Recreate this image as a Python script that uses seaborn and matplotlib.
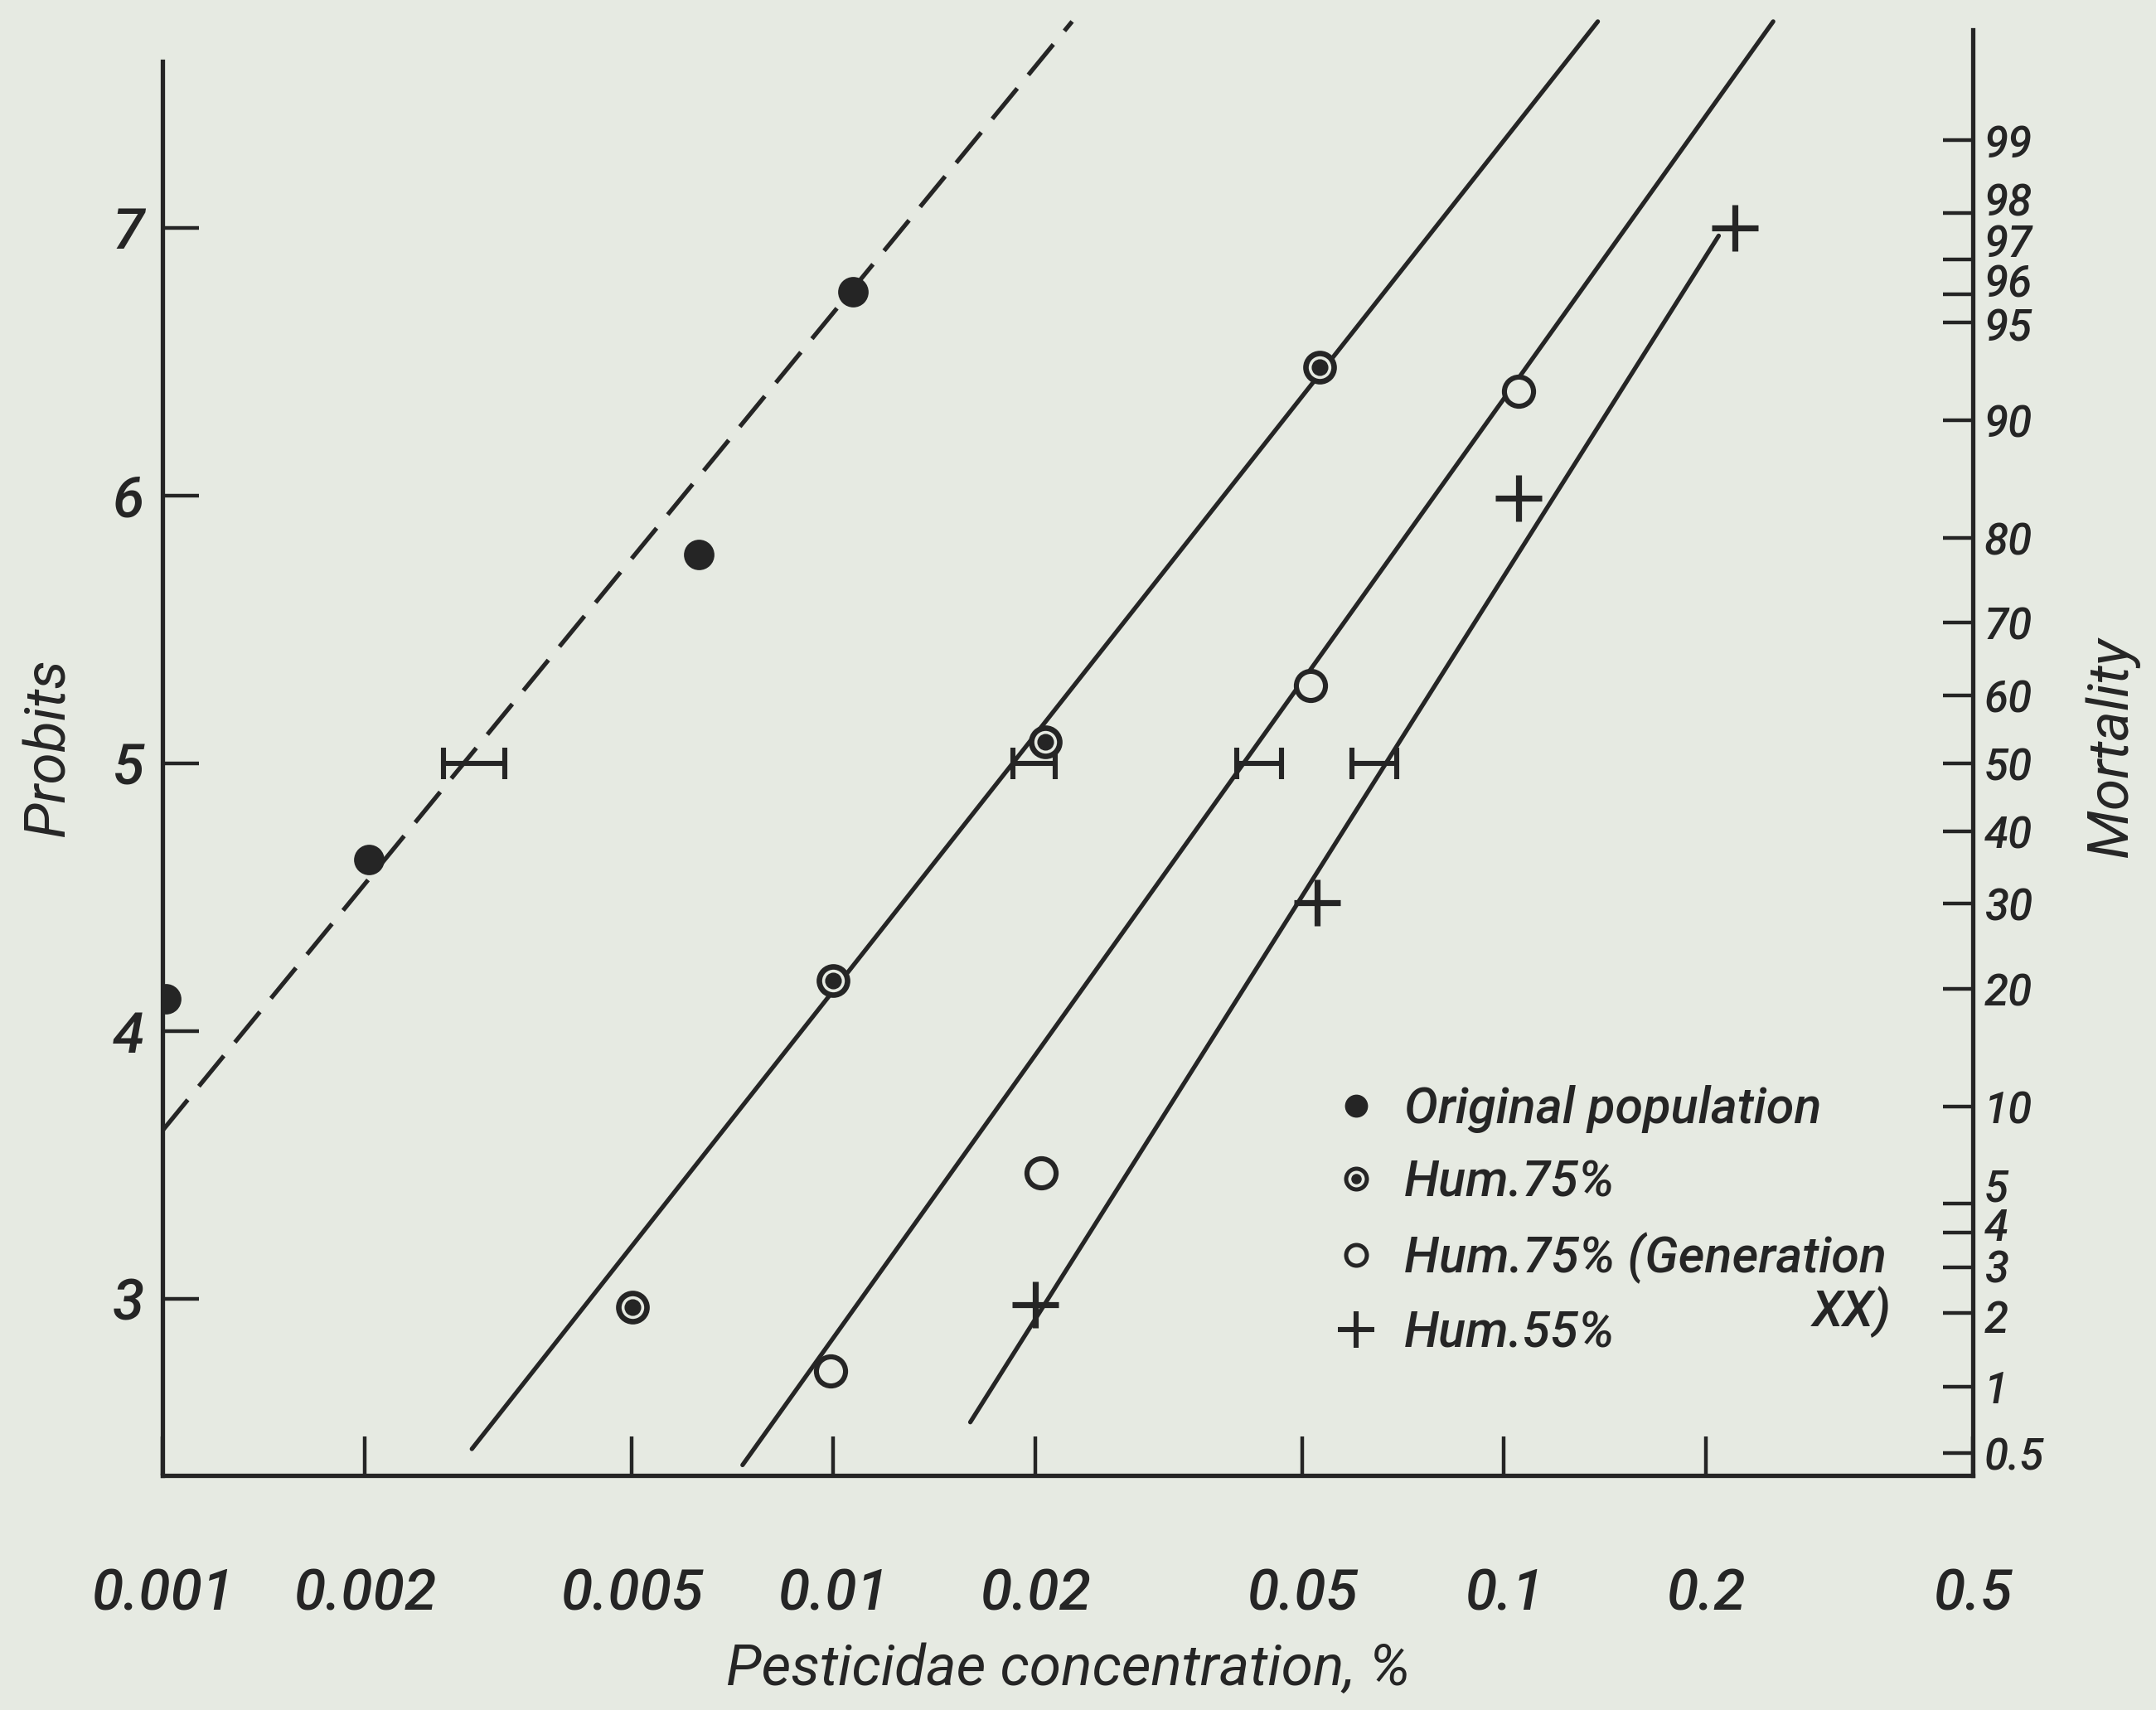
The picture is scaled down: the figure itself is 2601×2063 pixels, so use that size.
import numpy as np
import pandas as pd
import matplotlib
matplotlib.use("Agg")
import matplotlib.pyplot as plt
import matplotlib.transforms as mtransforms
from matplotlib import font_manager as fm
from matplotlib.lines import Line2D
import seaborn as sns
from statistics import NormalDist

# ---- data -------------------------------------------------------------
# Observed points (concentration %, probit)
orig_x = [0.00101, 0.00203, 0.0063, 0.0107]
orig_y = [4.12, 4.64, 5.78, 6.76]

h75_x = [0.00502, 0.0100, 0.0207, 0.0531]
h75_y = [2.97, 4.19, 5.08, 6.48]

gen_x = [0.0099, 0.0204, 0.0514, 0.105]
gen_y = [2.73, 3.47, 5.29, 6.39]

h55_x = [0.0200, 0.0526, 0.105, 0.221]
h55_y = [2.98, 4.48, 5.99, 7.00]

# Fitted probit regression lines (end points: concentration, probit)
orig_line_x = [0.00100, 0.0227]
orig_line_y = [3.63, 7.77]
h75_line_x = [0.00289, 0.138]
h75_line_y = [2.44, 7.77]
gen_line_x = [0.00732, 0.252]
gen_line_y = [2.38, 7.77]
h55_line_x = [0.0160, 0.209]
h55_line_y = [2.54, 6.97]

# LC50 with confidence limits (centre, lower, upper) at probit 5
lc50_mid = [0.00281, 0.0200, 0.0430, 0.0640]
lc50_lo = [0.00262, 0.0185, 0.0399, 0.0593]
lc50_hi = [0.00324, 0.0214, 0.0466, 0.0692]

x_ticks = [0.001, 0.002, 0.005, 0.01, 0.02, 0.05, 0.1, 0.2, 0.5]
x_labels = ["0.001", "0.002", "0.005", "0.01", "0.02", "0.05", "0.1", "0.2", "0.5"]
probit_ticks = [3, 4, 5, 6, 7]
mortality_ticks = [0.5, 1, 2, 3, 4, 5, 10, 20, 30, 40, 50, 60, 70, 80, 90, 95, 96, 97, 98, 99]
mortality_labels = ["0.5", "1", "2", "3", "4", "5", "10", "20", "30", "40", "50",
                    "60", "70", "80", "90", "95", "96", "97", "98", "99"]
# vertical nudges (points) so the crowded percent labels stack without touching
mortality_nudge = [0, 0, -1.0, 0.6, 3.6, 8.4, 0, 0, 0, 0, 0, 0, 0, 0, 0, -0.6, 6.0, 8.4, 6.0, 0]

legend_labels = ["Original population", "Hum.75%", "Hum.75% (Generation", "Hum.55%"]

# ---- style ------------------------------------------------------------
INK = "#252525"
PAPER = "#e6eae2"

sns.set_theme(style="ticks")
names = {f.name for f in fm.fontManager.ttflist}
FONT = "Roboto" if "Roboto" in names else "DejaVu Sans"
plt.rcParams["font.family"] = [FONT, "DejaVu Sans"]
plt.rcParams["font.style"] = "italic"
plt.rcParams["font.weight"] = "medium"
plt.rcParams["text.color"] = INK
plt.rcParams["axes.labelcolor"] = INK
plt.rcParams["xtick.color"] = INK
plt.rcParams["ytick.color"] = INK
plt.rcParams["axes.edgecolor"] = INK

FS = 25
FS_LEG = 22
FS_RIGHT = 19

fig = plt.figure(figsize=(13.005, 10.315), dpi=200, facecolor=PAPER)
ax = fig.add_axes([0.0755, 0.137, 0.8395, 0.852])
ax.set_facecolor(PAPER)

LW = 1.9

# regression lines
lines = pd.concat([
    pd.DataFrame({"x": orig_line_x, "y": orig_line_y, "s": "orig"}),
    pd.DataFrame({"x": h75_line_x, "y": h75_line_y, "s": "h75"}),
    pd.DataFrame({"x": gen_line_x, "y": gen_line_y, "s": "gen"}),
    pd.DataFrame({"x": h55_line_x, "y": h55_line_y, "s": "h55"}),
])
sns.lineplot(data=lines[lines.s == "orig"], x="x", y="y", ax=ax, color=INK, lw=LW,
             legend=False, estimator=None, sort=False)
ax.lines[-1].set_dashes([9, 4])
for key in ["h75", "gen", "h55"]:
    sns.lineplot(data=lines[lines.s == key], x="x", y="y", ax=ax, color=INK, lw=LW,
                 legend=False, estimator=None, sort=False)

# LC50 confidence bars
for m, lo, hi in zip(lc50_mid, lc50_lo, lc50_hi):
    ax.errorbar([m], [5.0], xerr=[[m - lo], [hi - m]], fmt="none", ecolor=INK,
                elinewidth=2.2, capsize=7, capthick=2.2, zorder=4)

# observation markers
sns.scatterplot(x=orig_x, y=orig_y, ax=ax, marker="o", s=150, color=INK,
                edgecolor=INK, zorder=5, legend=False)
sns.scatterplot(x=h75_x, y=h75_y, ax=ax, marker="o", s=150, facecolor=PAPER,
                edgecolor=INK, linewidth=2.4, zorder=5, legend=False)
sns.scatterplot(x=h75_x, y=h75_y, ax=ax, marker="o", s=45, color=INK,
                edgecolor=INK, zorder=6, legend=False)
sns.scatterplot(x=gen_x, y=gen_y, ax=ax, marker="o", s=160, facecolor=PAPER,
                edgecolor=INK, linewidth=2.2, zorder=5, legend=False)
sns.scatterplot(x=h55_x, y=h55_y, ax=ax, marker="+", s=400, color=INK,
                linewidth=2.6, zorder=5, legend=False)

# axes
ax.set_xscale("log")
ax.set_xlim(0.001, 0.5)
ax.set_ylim(2.34, 7.78)
ax.set_xticks(x_ticks)
ax.set_xticklabels(x_labels)
ax.xaxis.set_minor_locator(matplotlib.ticker.NullLocator())
ax.set_yticks(probit_ticks)
ax.set_yticklabels([str(t) for t in probit_ticks])
ax.tick_params(axis="x", direction="in", length=17, width=1.6, pad=40, labelsize=FS)
ax.tick_params(axis="y", direction="in", length=16, width=1.6, pad=8, labelsize=FS)

ax.spines["top"].set_visible(False)
ax.spines["right"].set_visible(False)
for sp in ["left", "bottom"]:
    ax.spines[sp].set_linewidth(LW)
ax.spines["left"].set_bounds(2.34, 7.62)

ax.set_xlabel("Pesticidae concentration, %", fontsize=FS, labelpad=9)
ax.set_ylabel("Probits", fontsize=FS, labelpad=16)

# legend
dot_circle = (Line2D([], [], ls="none", marker="o", ms=9, mfc=PAPER, mec=INK, mew=1.8),
              Line2D([], [], ls="none", marker="o", ms=3.5, color=INK))
handles = [
    Line2D([], [], ls="none", marker="o", ms=9, color=INK),
    dot_circle,
    Line2D([], [], ls="none", marker="o", ms=9, mfc=PAPER, mec=INK, mew=1.8),
    Line2D([], [], ls="none", marker="+", ms=16, color=INK, mew=2.2),
]
leg = ax.legend(handles, legend_labels, loc="upper left", bbox_to_anchor=(0.648, 0.268),
                frameon=False, fontsize=FS_LEG, handlelength=0.8, handletextpad=0.55,
                labelspacing=0.5, borderaxespad=0, borderpad=0)
# continuation line of the third entry, right-aligned under it
ax.annotate("XX)", xy=(1, 0), xycoords=leg.get_texts()[2], xytext=(2, -1),
            textcoords="offset points", ha="right", va="top", fontsize=FS_LEG,
            zorder=10)

# right-hand mortality scale (probit transform of percent kill)
nd = NormalDist()
mort_pos = [5 + nd.inv_cdf(p / 100.0) for p in mortality_ticks]
ax2 = ax.twinx()
ax2.set_ylim(ax.get_ylim())
ax2.set_yticks(mort_pos)
ax2.set_yticklabels([])
ax2.yaxis.set_minor_locator(matplotlib.ticker.NullLocator())
ax2.tick_params(axis="y", direction="in", length=13, width=1.6)
for sp in ["top", "left", "bottom"]:
    ax2.spines[sp].set_visible(False)
ax2.spines["right"].set_linewidth(LW)
ax2.spines["right"].set_bounds(2.34, 7.74)
trans = mtransforms.blended_transform_factory(ax2.transAxes, ax2.transData)
for pos, lab, dy in zip(mort_pos, mortality_labels, mortality_nudge):
    ax2.annotate(lab, xy=(1, pos), xycoords=trans, xytext=(5, dy),
                 textcoords="offset points", ha="left", va="center_baseline",
                 fontsize=FS_RIGHT)
ax2.set_ylabel("Mortality", fontsize=FS, labelpad=45)

fig.savefig("out.png", dpi=200, facecolor=PAPER)
